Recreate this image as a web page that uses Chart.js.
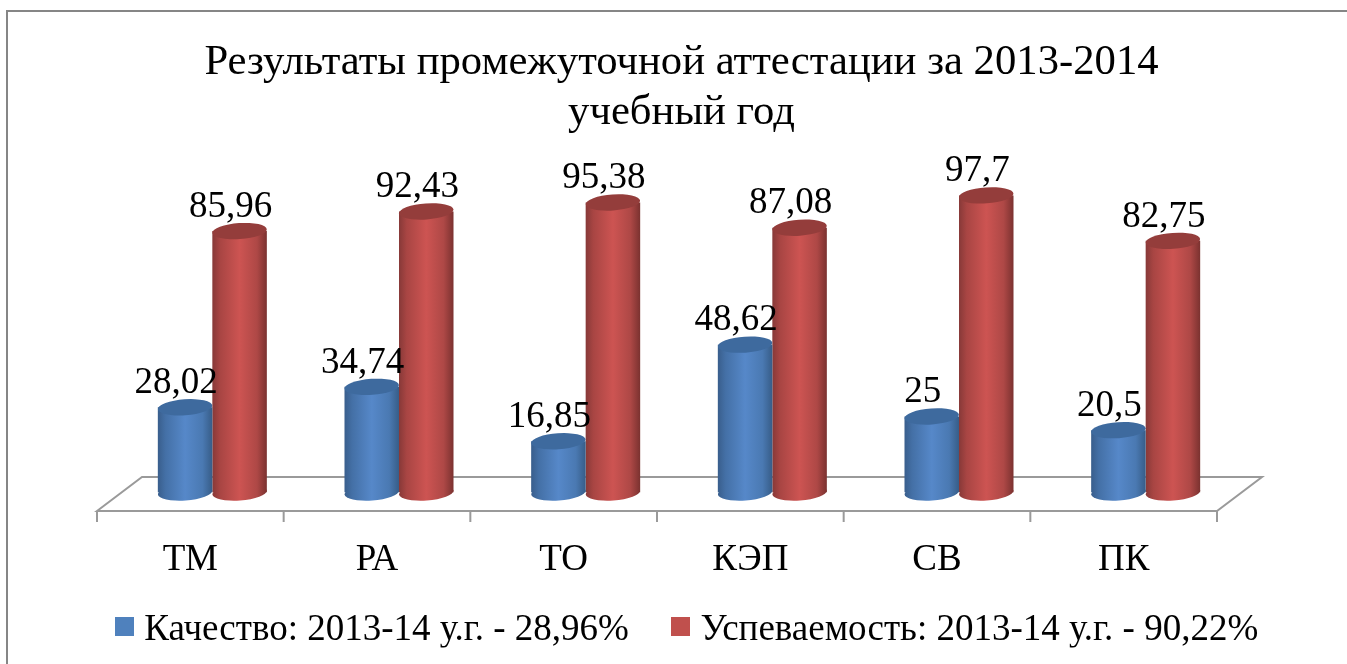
<!DOCTYPE html>
<html lang="ru">
<head>
<meta charset="utf-8">
<title>Результаты промежуточной аттестации</title>
<script src="https://cdn.jsdelivr.net/npm/chart.js@4"></script>
<style>
    html, body { margin: 0; padding: 0; background: #ffffff; overflow: hidden; }
    canvas { display: block; }
</style>
</head>
<body>
<canvas id="chart" width="1347" height="664"></canvas>
<script>
const categories = ['ТМ', 'РА', 'ТО', 'КЭП', 'СВ', 'ПК'];
const qualityValues = [28.02, 34.74, 16.85, 48.62, 25, 20.5];
const progressValues = [85.96, 92.43, 95.38, 87.08, 97.7, 82.75];
const seriesLabels = ['Качество: 2013-14 у.г. - 28,96%', 'Успеваемость: 2013-14 у.г. - 90,22%'];
const titleLines = ['Результаты промежуточной аттестации за 2013-2014', 'учебный год'];

const fontFamily = '"Liberation Serif", "Times New Roman", serif';
const groupShare = 0.584;
const ellipseRy = 8;
const ellipseTilt = -0.07;
const depthFront = { dx: -22, dy: 18.5 };
const depthBack = { dx: 23, dy: -15.5 };

const palette = [
    { legend: '#4f81bd', top: '#3e6a9e', stops: ['#395e8c', '#4470a6', '#5688c9', '#4a79b2', '#375d88'] },
    { legend: '#c0504d', top: '#943d3b', stops: ['#873938', '#a84543', '#cd5452', '#ae4846', '#7b3230'] }
];

// taller than the square so it sits a little above the legend text's centre
function legendSwatch(color) {
    const swatch = document.createElement('canvas');
    swatch.width = 19;
    swatch.height = 27;
    const c = swatch.getContext('2d');
    c.fillStyle = color;
    c.fillRect(0, 0, 19, 19);
    return swatch;
}

// horizontal shading so the bar reads as a cylinder
function cylinderFill(context) {
    const chart = context.chart;
    const scale = chart.scales.x;
    const barWidth = (scale.width / categories.length) * groupShare / 2;
    const center = scale.getPixelForValue(context.dataIndex);
    const left = context.datasetIndex === 0 ? center - barWidth : center;
    const gradient = chart.ctx.createLinearGradient(left, 0, left + barWidth, 0);
    const stops = palette[context.datasetIndex].stops;
    [0, 0.14, 0.5, 0.82, 1].forEach((pos, i) => gradient.addColorStop(pos, stops[i]));
    return gradient;
}

// nudge title and legend to where the reference has them
const nudgePlugin = {
    id: 'nudge',
    afterLayout(chart) {
        chart.titleBlock.left += 8;
        chart.titleBlock.right += 8;
        chart.legend.left += 17;
        chart.legend.right += 17;
        chart.legend.top -= 16.5;
        chart.legend.bottom -= 16.5;
    }
};

const framePlugin = {
    id: 'frame',
    beforeDraw(chart) {
        const ctx = chart.ctx;
        ctx.save();
        ctx.strokeStyle = '#868686';
        ctx.lineWidth = 2;
        ctx.beginPath();
        ctx.moveTo(7, 664);
        ctx.lineTo(7, 11);
        ctx.lineTo(1347, 11);
        ctx.stroke();
        ctx.restore();
    }
};

// the floor of the 3D plot, taken from the chart area
const floorPlugin = {
    id: 'floor',
    beforeDatasetsDraw(chart) {
        const ctx = chart.ctx;
        const area = chart.chartArea;
        const scale = chart.scales.x;
        const frontY = area.bottom + depthFront.dy;
        const backY = area.bottom + depthBack.dy;
        ctx.save();
        ctx.strokeStyle = '#9a9a9a';
        ctx.lineWidth = 2;
        ctx.beginPath();
        ctx.moveTo(area.left + depthFront.dx, frontY);
        ctx.lineTo(area.left + depthBack.dx, backY);
        ctx.lineTo(area.right + depthBack.dx, backY);
        ctx.lineTo(area.right + depthFront.dx, frontY);
        ctx.closePath();
        ctx.stroke();
        const step = scale.width / categories.length;
        for (let i = 0; i <= categories.length; i++) {
            const x = area.left + depthFront.dx + step * i;
            ctx.beginPath();
            ctx.moveTo(x, frontY);
            ctx.lineTo(x, frontY + 11);
            ctx.stroke();
        }
        ctx.restore();
    }
};

const capsPlugin = {
    id: 'caps',
    afterDatasetsDraw(chart) {
        const ctx = chart.ctx;
        chart.data.datasets.forEach((dataset, d) => {
            chart.getDatasetMeta(d).data.forEach((bar, i) => {
                const rx = bar.width / 2;
                ctx.save();
                ctx.fillStyle = bar.options.backgroundColor;
                ctx.beginPath();
                ctx.ellipse(bar.x, bar.base, rx, ellipseRy, ellipseTilt, 0, Math.PI * 2);
                ctx.fill();
                ctx.fillStyle = palette[d].top;
                ctx.beginPath();
                ctx.ellipse(bar.x, bar.y, rx, ellipseRy, ellipseTilt, 0, Math.PI * 2);
                ctx.fill();
                ctx.fillStyle = '#000000';
                ctx.font = '37px ' + fontFamily;
                ctx.textAlign = 'center';
                ctx.textBaseline = 'middle';
                ctx.fillText(String(dataset.data[i]).replace('.', ','), bar.x - 9, bar.y - 24);
                ctx.restore();
            });
        });
    }
};

new Chart(document.getElementById('chart'), {
    type: 'bar',
    data: {
        labels: categories,
        datasets: [
            { label: seriesLabels[0], data: qualityValues, backgroundColor: cylinderFill },
            { label: seriesLabels[1], data: progressValues, backgroundColor: cylinderFill }
        ]
    },
    options: {
        responsive: false,
        animation: false,
        layout: { padding: { left: 0, right: 0, top: 38, bottom: 0 } },
        datasets: { bar: { categoryPercentage: groupShare, barPercentage: 1 } },
        scales: {
            x: {
                grid: { display: false },
                border: { display: false },
                ticks: {
                    color: '#000000',
                    font: { family: fontFamily, size: 37 },
                    labelOffset: -22,
                    padding: 37.5,
                    maxRotation: 0
                },
                afterFit(scale) { scale.height = 86; }
            },
            y: {
                min: 0,
                max: 116.6,
                grid: { display: false },
                border: { display: false },
                ticks: { display: false },
                afterFit(scale) { scale.width = 119; }
            },
            // empty axis, only reserves the margin on the right
            yMargin: {
                position: 'right',
                grid: { display: false },
                border: { display: false },
                ticks: { display: false },
                afterFit(scale) { scale.width = 108; }
            }
        },
        plugins: {
            title: {
                display: true,
                text: titleLines,
                color: '#000000',
                font: { family: fontFamily, size: 42.7, weight: 'normal', lineHeight: 1.17 },
                padding: { top: 0, bottom: 0 }
            },
            legend: {
                position: 'bottom',
                maxHeight: 85.5,
                labels: {
                    color: '#000000',
                    font: { family: fontFamily, size: 37 },
                    usePointStyle: true,
                    pointStyleWidth: 3,
                    padding: 50,
                    generateLabels(chart) {
                        return chart.data.datasets.map((dataset, i) => ({
                            text: dataset.label,
                            datasetIndex: i,
                            pointStyle: legendSwatch(palette[i].legend),
                            fontColor: '#000000',
                            lineWidth: 0
                        }));
                    }
                }
            },
            tooltip: { enabled: false }
        }
    },
    plugins: [nudgePlugin, framePlugin, floorPlugin, capsPlugin]
});
</script>
</body>
</html>
